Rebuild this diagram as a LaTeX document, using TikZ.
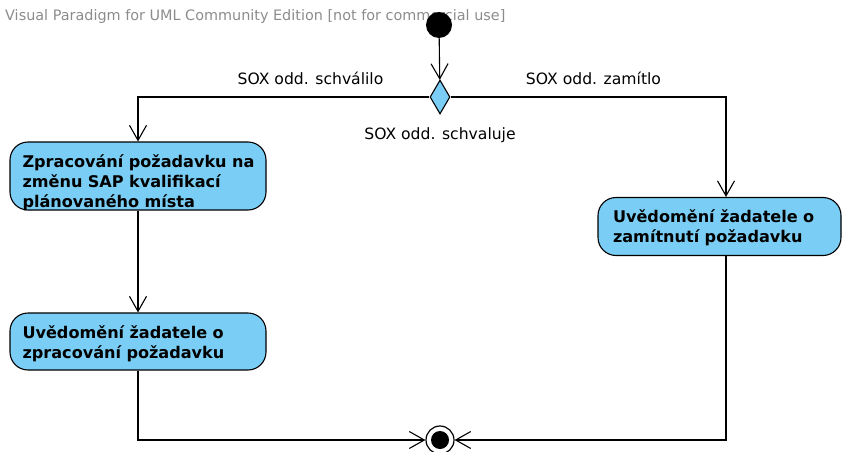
\documentclass[tikz,border=0pt]{standalone}
\usepackage{fontspec}
\setmainfont{DejaVu Sans}
\usetikzlibrary{arrows.meta,shapes.geometric}
\definecolor{actblue}{RGB}{122,206,245}
\definecolor{wmgray}{RGB}{140,140,140}
\tikzset{
  act/.style={draw, line width=1.1pt, fill=actblue, rounded corners=18pt,
    align=left, inner xsep=12.5pt, inner ysep=0pt, text width=231pt,
    text height=25pt, font=\fontsize{16.1}{20.3}\selectfont\bfseries},
  flow/.style={line width=1.1pt, -{Straight Barb[length=15pt,width=17pt,line width=1.1pt]}},
  guard/.style={font=\fontsize{15.6}{19}\selectfont, inner sep=0pt},
}
\hbadness=10000 \hfuzz=20pt
\begin{document}
\begin{tikzpicture}[x=1pt,y=-1pt]
\useasboundingbox (0,0) rectangle (843,452);

% watermark
\node[anchor=west, text=wmgray, inner sep=0pt, font=\fontsize{14.4}{17}\selectfont] (wm) at (5,17)
  {Visual Paradigm for UML Community Edition [not for commercial use]};

% start and decision
\node[circle, fill=black, minimum size=26pt, inner sep=0pt] (init) at (439,25) {};
\node[diamond, draw, line width=1.1pt, fill=actblue, inner sep=0pt,
      minimum width=20pt, minimum height=34pt] (dec) at (440,97) {};

% actions
\node[act, text depth=43pt] (proc) at (138,176)
  {\mbox{Zpracování požadavku na}\\\mbox{změnu SAP kvalifikací}\\\mbox{plánovaného místa}};
\node[act, text depth=32pt] (done) at (138,341.5)
  {\mbox{Uvědomění žadatele o}\\\mbox{zpracování požadavku}};
\node[act, text depth=33pt, text width=213pt, inner xsep=15pt] (rej) at (719.5,226.5)
  {\mbox{Uvědomění žadatele o}\\\mbox{zamítnutí požadavku}};

% final node
\node[circle, draw, line width=1.2pt, minimum size=28pt, inner sep=0pt] (fin) at (440,440) {};
\fill (fin.center) circle (9pt);

% guards
\node[guard] (gyes) at (310.5,78) {SOX odd. schválilo};
\node[guard] (gno) at (593.5,78) {SOX odd. zamítlo};
\node[guard] (gdec) at (440,135) {SOX odd. schvaluje};

% flows
\draw[flow] (init) -- (dec);
\draw[flow] (dec.west) -| (proc.north);
\draw[flow] (dec.east) -| ([xshift=6.5pt]rej.north);
\draw[flow] (proc) -- (done);
\draw[flow] (done.south) |- (fin.west);
\draw[flow] ([xshift=6.5pt]rej.south) |- (fin.east);
\end{tikzpicture}
\end{document}
